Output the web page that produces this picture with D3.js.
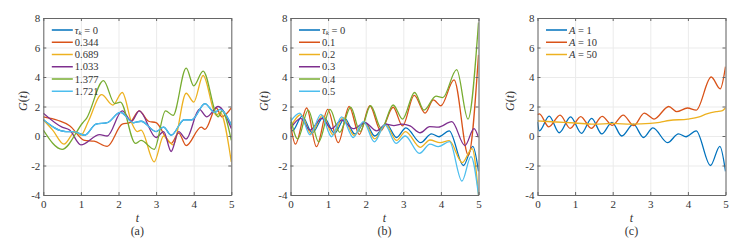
<!DOCTYPE html>
<html>
<head>
<meta charset="utf-8">
<style>
  body { margin: 0; background: #fff; }
  svg { display: block; }
  svg text { font-family: "Liberation Serif", serif !important; fill: #333; }
</style>
</head>
<body>
<div id="chart"></div>
<script src="https://cdn.jsdelivr.net/npm/d3@7"></script>
<script>
// axis ticks
const tTicks = [0, 1, 2, 3, 4, 5];
const gTicks = [-4, -2, 0, 2, 4, 6, 8];

// MATLAB default colour order
const colors = ["#0072BD", "#D95319", "#EDB120", "#7E2F8E", "#77AC30", "#4DBEEE"];

// panel (a): [t, G(t)]
const aLabels = ["0", "0.344", "0.689", "1.033", "1.377", "1.721"];
const aTau1721 = [[0,1.1],[0.6,0.3],[0.8,0.3],[1.1,0.05],[1.4,0.8],[1.7,0.9],[2.05,1.6],[2.4,0.9],[2.6,1.0],[3.0,0.3],[3.2,0.6],[3.4,0.05],[3.75,1.1],[3.95,1.1],[4.3,2.2],[4.55,1.6],[4.7,1.8],[5,0.75]];
const aTau0 = [[0,1.1],[0.6,0.3],[0.8,0.3],[1.1,0.05],[1.4,0.8],[1.7,0.9],[2.05,1.6],[2.4,0.9],[2.6,1.0],[3.0,0.3],[3.2,0.6],[3.4,0.05],[3.75,1.1],[3.95,1.1],[4.3,2.2],[4.55,1.6],[4.7,1.8],[5,0.75]];
const aTau0344 = [[0,1.3],[0.4,1.05],[0.7,0.7],[1.1,-0.3],[1.35,-0.35],[1.7,-0.7],[2.1,0.8],[2.3,0.9],[2.55,1.7],[2.8,1.0],[3.0,0.9],[3.4,-0.5],[3.6,0.2],[3.8,-0.65],[4.2,0.6],[4.3,0.45],[4.6,1.9],[4.75,1.3],[5,1.9]];
const aTau0689 = [[0,1.1],[0.25,0.4],[0.55,-0.55],[0.85,0.3],[1.0,0.05],[1.2,1.0],[1.55,2.8],[1.85,2.1],[2.1,2.95],[2.35,0.9],[2.5,0.3],[2.6,0.4],[2.95,-1.75],[3.2,0.0],[3.45,-0.6],[3.8,2.9],[4.0,2.3],[4.25,4.1],[4.6,1.4],[4.7,1.6],[5,-1.75]];
const aTau1033 = [[0,1.55],[0.5,0.6],[0.7,0.4],[1.0,-0.6],[1.5,0.1],[1.7,0.0],[2.1,1.7],[2.35,1.0],[2.55,1.7],[3.0,-0.1],[3.2,0.3],[3.4,-1.05],[3.6,0.3],[3.8,-0.2],[4.15,1.8],[4.35,1.3],[4.65,2.0],[5,0.5]];
const aTau1377 = [[0,0.4],[0.5,-0.9],[1.05,0.9],[1.15,1.2],[1.6,3.75],[1.9,2.2],[2.05,2.3],[2.45,-0.5],[2.6,-0.3],[2.95,-0.9],[3.25,1.7],[3.45,1.4],[3.8,4.6],[4.0,3.4],[4.25,4.4],[4.65,1.3],[4.75,1.7],[5,-0.3]];

// panel (b)
const bLabels = ["0", "0.1", "0.2", "0.3", "0.4", "0.5"];
const bTau0 = [[0,0.95],[0.05,0.35],[0.31,1.35],[0.58,0.22],[0.88,1.3],[1.17,0.18],[1.44,1.2],[1.71,0.14],[1.98,0.93],[2.24,0.0],[2.55,0.8],[2.82,-0.1],[3.07,0.55],[3.46,-0.45],[3.75,0.15],[3.95,-0.05],[4.22,0.35],[4.6,-2.0],[4.85,-0.7],[5,-2.4]];
const bTau01 = [[0,0.8],[0.13,-0.55],[0.43,1.9],[0.69,-0.72],[0.99,1.8],[1.27,-0.45],[1.56,2.0],[1.83,0.1],[2.11,2.05],[2.4,0.35],[2.73,1.95],[2.98,0.68],[3.29,2.75],[3.58,1.55],[3.8,2.45],[4.0,2.05],[4.35,3.8],[4.73,-1.3],[5,5.5]];
const bTau02 = [[0,0.6],[0.28,1.45],[0.55,0.15],[0.85,1.4],[1.13,0.1],[1.4,1.25],[1.69,0.05],[1.96,0.95],[2.24,-0.2],[2.53,0.78],[2.82,-0.3],[3.06,0.3],[3.45,-0.77],[3.71,-0.27],[3.98,-0.45],[4.22,-0.32],[4.57,-1.8],[4.83,-0.85],[5,-4.0]];
const bTau03 = [[0,0.5],[0.27,1.2],[0.52,0.4],[0.83,1.2],[1.09,0.5],[1.36,1.08],[1.67,0.5],[1.98,0.9],[2.29,0.35],[2.54,0.8],[2.75,0.7],[2.96,0.8],[3.18,0.68],[3.45,0.22],[3.7,0.63],[3.93,0.6],[4.29,0.97],[4.64,-0.65],[4.88,0.5],[5,-0.1]];
const bTau04 = [[0,1.27],[0.19,-0.2],[0.47,1.75],[0.75,-0.4],[1.05,1.8],[1.31,0.25],[1.6,1.95],[1.85,0.3],[2.13,2.05],[2.42,0.5],[2.73,2.1],[2.98,1.15],[3.3,2.95],[3.55,1.75],[3.87,2.7],[4.05,2.6],[4.42,4.5],[4.72,1.15],[5,7.7]];
const bTau05 = [[0,1.0],[0.25,1.55],[0.52,0.07],[0.81,1.47],[1.09,-0.05],[1.36,1.3],[1.67,-0.1],[1.94,0.97],[2.23,-0.4],[2.51,0.75],[2.81,-0.5],[3.05,0.0],[3.43,-1.18],[3.71,-0.55],[3.93,-0.72],[4.23,-0.38],[4.56,-3.05],[4.8,-1.4],[5,-4.0]];

// panel (c)
const cLabels = ["1", "10", "50"];
const cA1 = [[0,0.95],[0.05,0.35],[0.31,1.35],[0.58,0.22],[0.88,1.3],[1.17,0.18],[1.44,1.2],[1.71,0.14],[1.98,0.93],[2.24,0.0],[2.55,0.8],[2.82,-0.1],[3.07,0.55],[3.46,-0.45],[3.75,0.15],[3.95,-0.05],[4.22,0.35],[4.6,-2.0],[4.85,-0.7],[5,-2.4]];
const cA10 = [[0,1.45],[0.05,1.5],[0.3,0.62],[0.6,1.42],[0.87,0.52],[1.15,1.32],[1.43,0.52],[1.72,1.33],[1.99,0.72],[2.28,1.42],[2.56,0.7],[2.84,1.55],[3.1,1.15],[3.49,2.0],[3.7,1.65],[3.99,1.9],[4.22,1.75],[4.62,4.0],[4.86,3.2],[5,4.7]];
const cA50 = [[0,1.02],[0.5,0.95],[1.0,0.88],[1.5,0.8],[2.0,0.85],[2.5,0.8],[3.0,0.85],[3.25,0.92],[3.5,1.05],[4.0,1.15],[4.3,1.3],[4.5,1.5],[4.75,1.65],[4.9,1.7],[5,1.9]];

const width = 747, height = 240;
const plotW = 188, plotTop = 18, plotBottom = 195;

const svg = d3.select("#chart").append("svg")
  .attr("width", width)
  .attr("height", height);

const panels = [
  { id: "a", left: 43.3, ylabX: 23, series: [aTau0, aTau0344, aTau0689, aTau1033, aTau1377, aTau1721], labels: aLabels, sym: "tau" },
  { id: "b", left: 290.5, ylabX: 264, series: [bTau0, bTau01, bTau02, bTau03, bTau04, bTau05], labels: bLabels, sym: "tau" },
  { id: "c", left: 537.5, ylabX: 510, series: [cA1, cA10, cA50], labels: cLabels, sym: "A" }
];

panels.forEach(p => {
  const x = d3.scaleLinear().domain([0, 5]).range([p.left, p.left + plotW]);
  const y = d3.scaleLinear().domain([-4, 8]).range([plotBottom, plotTop]);
  const g = svg.append("g");

  // grid
  g.append("g")
    .attr("transform", `translate(0,${plotBottom})`)
    .call(d3.axisBottom(x).tickValues(tTicks).tickSize(-(plotBottom - plotTop)).tickFormat(""))
    .call(s => s.select(".domain").remove())
    .call(s => s.selectAll("line").attr("stroke", "#ebebeb"));
  g.append("g")
    .attr("transform", `translate(${p.left},0)`)
    .call(d3.axisLeft(y).tickValues(gTicks).tickSize(-plotW).tickFormat(""))
    .call(s => s.select(".domain").remove())
    .call(s => s.selectAll("line").attr("stroke", "#ebebeb"));

  // lines
  const clipId = "clip-" + p.id;
  g.append("clipPath").attr("id", clipId)
    .append("rect").attr("x", p.left).attr("y", plotTop).attr("width", plotW).attr("height", plotBottom - plotTop);
  const line = d3.line().x(d => x(d[0])).y(d => y(d[1])).curve(d3.curveMonotoneX);
  g.append("g").attr("clip-path", `url(#${clipId})`)
    .selectAll("path")
    .data(p.series)
    .join("path")
    .attr("d", line)
    .attr("fill", "none")
    .attr("stroke", (d, i) => colors[i])
    .attr("stroke-width", 1.3);

  // axes
  const styleAxis = s => {
    s.attr("font-family", null).attr("font-size", null);
    s.select(".domain").attr("stroke", "#666");
    s.selectAll(".tick line").attr("stroke", "#666");
    s.selectAll("text").attr("font-size", 11).attr("fill", "#333");
  };
  g.append("g")
    .attr("transform", `translate(0,${plotBottom})`)
    .call(d3.axisBottom(x).tickValues(tTicks).tickSize(-3).tickSizeOuter(0).tickPadding(5).tickFormat(d3.format("d")))
    .call(styleAxis);
  g.append("g")
    .attr("transform", `translate(${p.left},0)`)
    .call(d3.axisLeft(y).tickValues(gTicks).tickSize(-3).tickSizeOuter(0).tickPadding(3).tickFormat(d => d < 0 ? "-" + Math.abs(d) : String(d)))
    .call(styleAxis);
  g.append("g")
    .attr("transform", `translate(0,${plotTop})`)
    .call(d3.axisTop(x).tickValues(tTicks).tickSize(-3).tickSizeOuter(0).tickFormat(""))
    .call(styleAxis);
  g.append("g")
    .attr("transform", `translate(${p.left + plotW},0)`)
    .call(d3.axisRight(y).tickValues(gTicks).tickSize(-3).tickSizeOuter(0).tickFormat(""))
    .call(styleAxis);

  // axis labels
  const cx = p.left + plotW / 2;
  g.append("text")
    .attr("x", cx).attr("y", 222)
    .attr("text-anchor", "middle")
    .attr("font-size", 12).attr("font-style", "italic")
    .text("t");
  g.append("text")
    .attr("x", cx).attr("y", 235)
    .attr("text-anchor", "middle")
    .attr("font-size", 12)
    .text(`(${p.id})`);
  const yl = g.append("text")
    .attr("transform", `translate(${p.ylabX + 4},101) rotate(-90)`)
    .attr("text-anchor", "middle")
    .attr("font-size", 12);
  yl.append("tspan").attr("font-style", "italic").text("G");
  yl.append("tspan").text("(");
  yl.append("tspan").attr("font-style", "italic").text("t");
  yl.append("tspan").text(")");

  // legend
  const lx = p.left + 8.5;
  p.labels.forEach((lab, i) => {
    const ly = 30 + i * 12.25;
    g.append("line")
      .attr("x1", lx).attr("x2", lx + 21)
      .attr("y1", ly).attr("y2", ly)
      .attr("stroke", colors[i]).attr("stroke-width", 1.5);
    const t = g.append("text")
      .attr("x", lx + 23).attr("y", ly + 3.5)
      .attr("font-size", 10.5);
    if (p.sym === "A") {
      t.append("tspan").attr("font-style", "italic").text("A");
      t.append("tspan").text(" = " + lab);
    } else if (i === 0) {
      t.append("tspan").attr("font-style", "italic").text("τ");
      t.append("tspan").attr("font-style", "italic").attr("font-size", 7).attr("dy", 1.2).text("k");
      t.append("tspan").attr("dy", -1.2).text(" = " + lab);
    } else {
      t.text(lab);
    }
  });
});
</script>
</body>
</html>
